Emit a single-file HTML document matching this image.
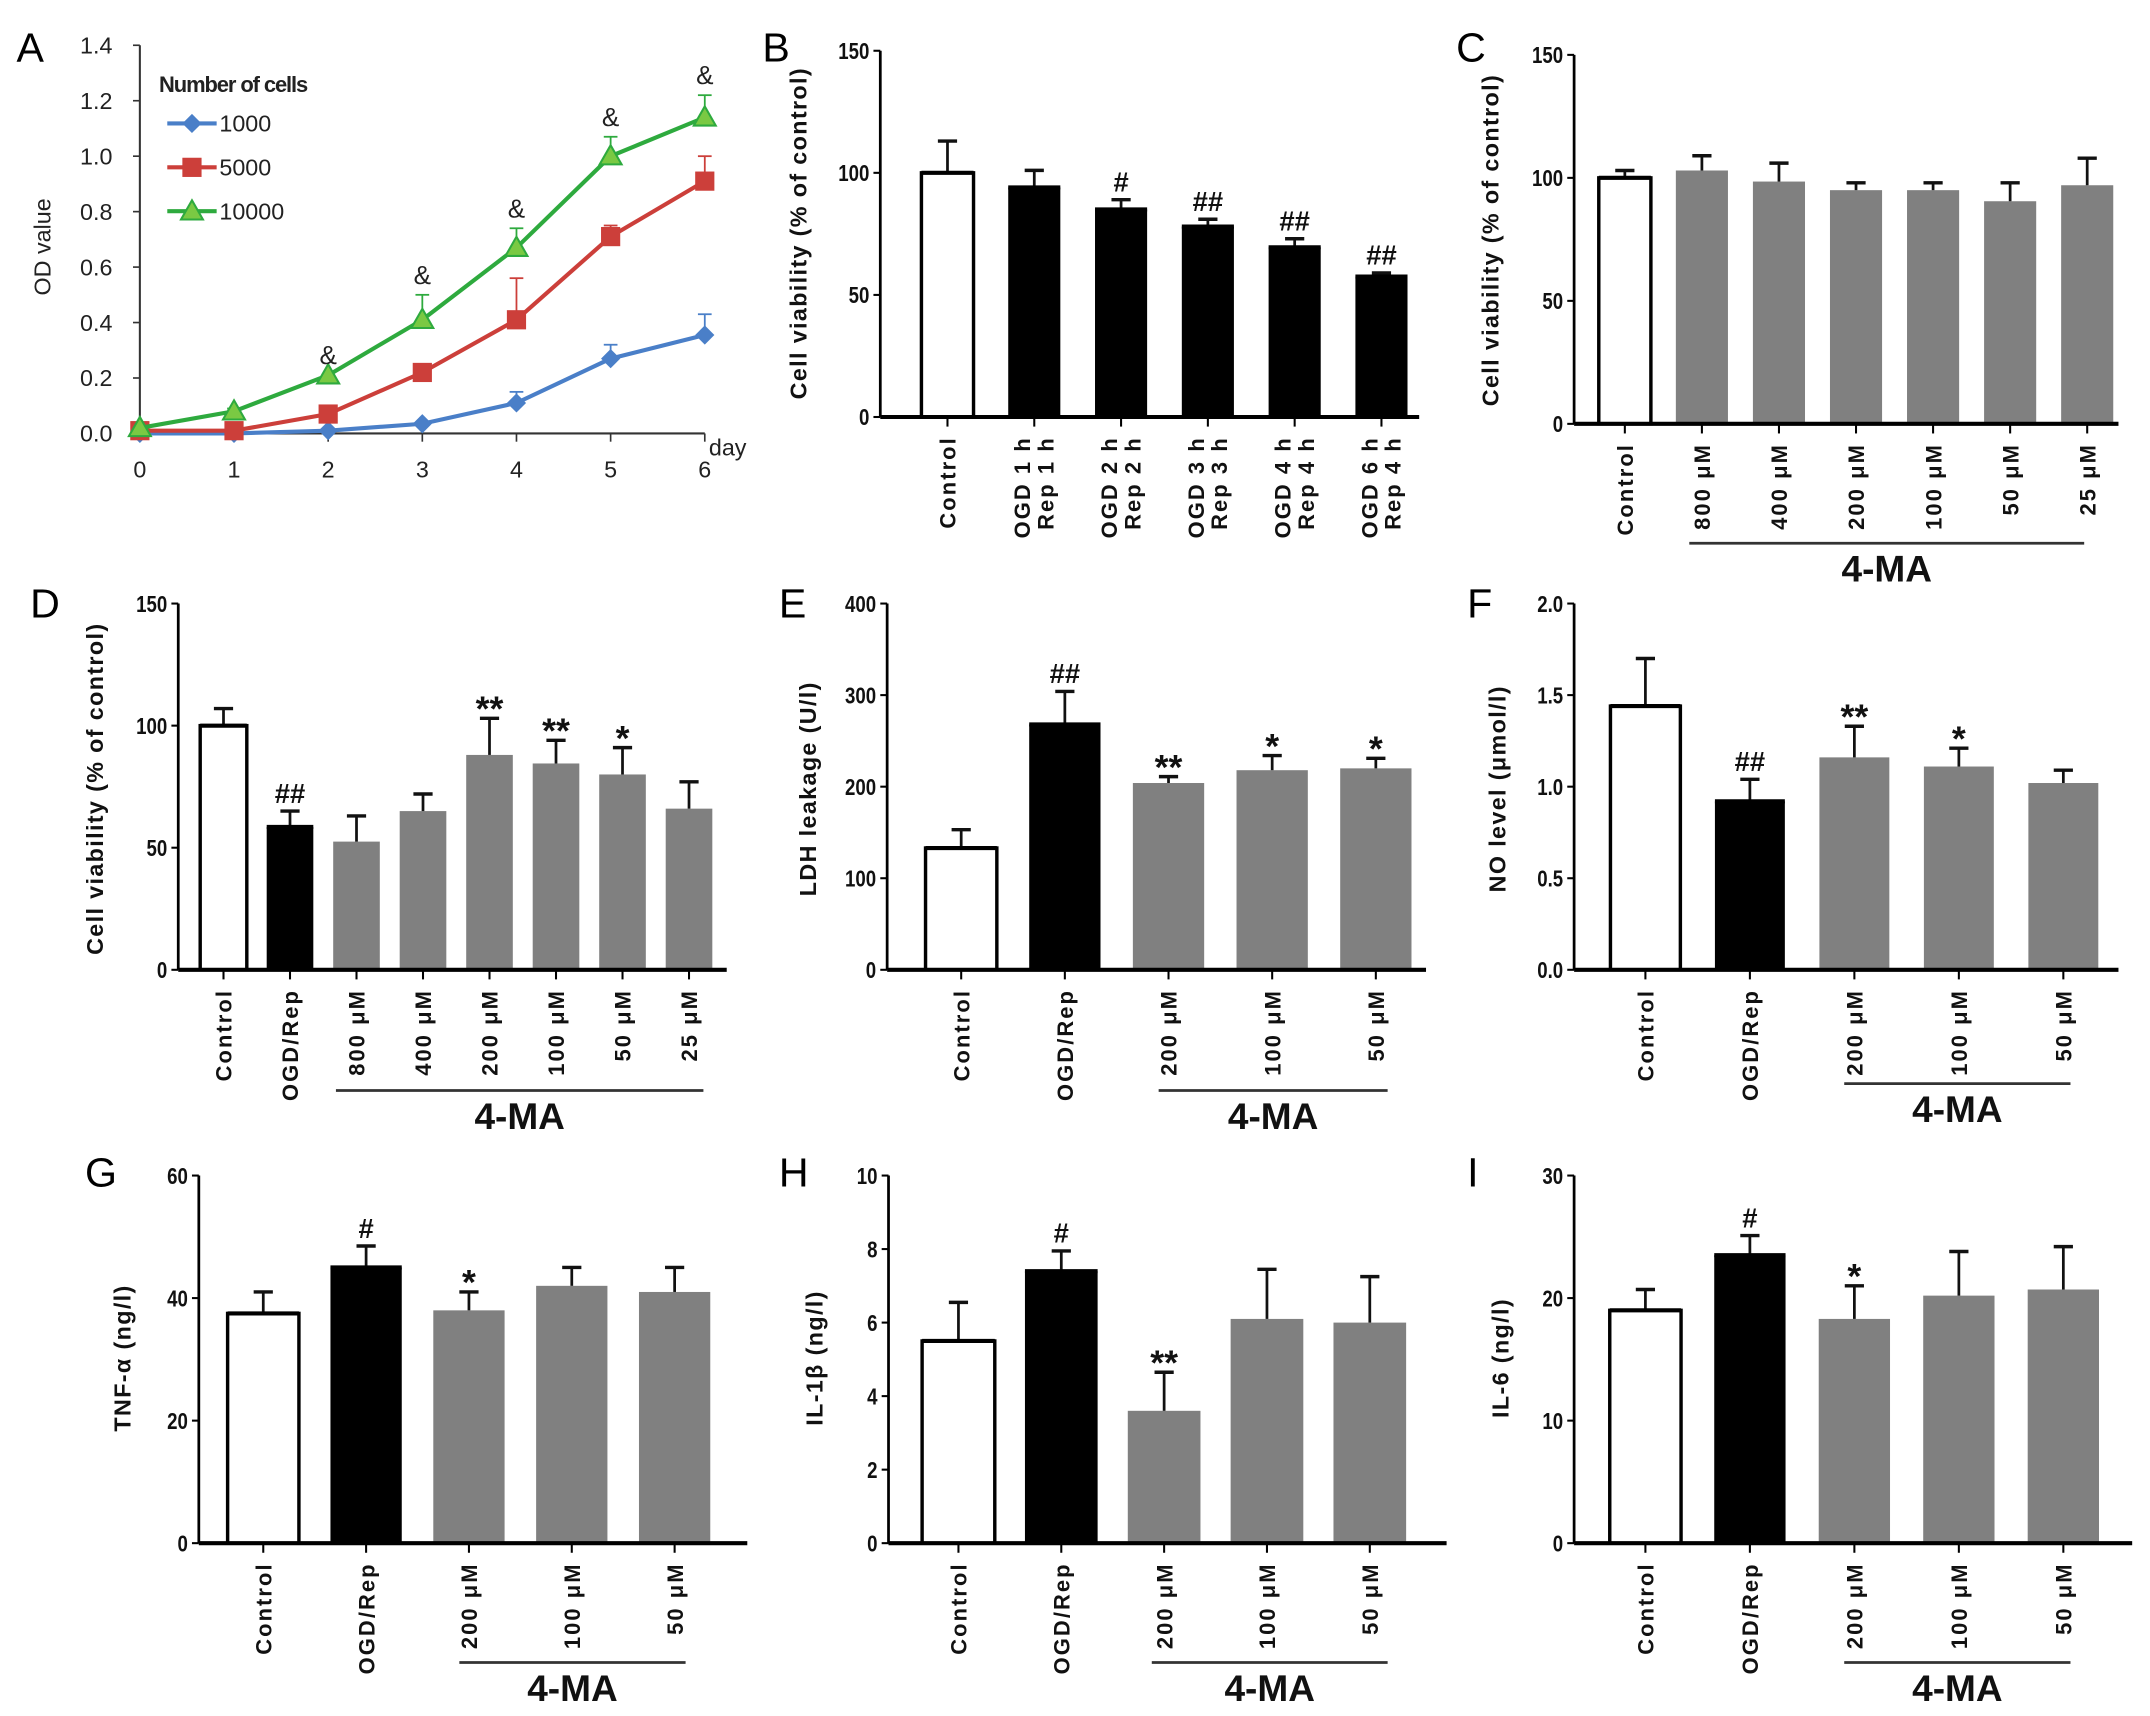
<!DOCTYPE html>
<html><head><meta charset="utf-8"><style>
html,body{margin:0;padding:0;background:#fff;}
svg{display:block;}
text{font-family:"Liberation Sans",Arial,sans-serif;}
</style></head><body>
<svg id="fig" width="2150" height="1716" viewBox="0 0 1568 1251" preserveAspectRatio="none" xmlns="http://www.w3.org/2000/svg"></svg>
<script>
// ---- Panel A data ----
const aDays = [0,1,2,3,4,5,6];
const aSeries1000 = [0,0,0.01,0.035,0.11,0.27,0.355];
const aErr1000 = [0,0,0.01,0.04,0.15,0.32,0.43];
const aSeries5000 = [0.01,0.01,0.07,0.22,0.41,0.71,0.91];
const aErr5000 = [0.01,0.01,0.07,0.22,0.56,0.75,1.0];
const aSeries10000 = [0.02,0.08,0.21,0.41,0.67,1.0,1.14];
const aErr10000 = [0.02,0.09,0.21,0.5,0.74,1.07,1.22];
const aMarks = ["","","&","&","&","&","&"];
const aYTicks = [0,0.2,0.4,0.6,0.8,1.0,1.2,1.4];
// ---- Panel B ----
const bCats = [["Control"],["OGD 1 h","Rep 1 h"],["OGD 2 h","Rep 2 h"],["OGD 3 h","Rep 3 h"],["OGD 4 h","Rep 4 h"],["OGD 6 h","Rep 4 h"]];
const bVals = [100,94,85,78,69.5,57.5];
const bErr = [113,101,89,81,73,59];
const bSig = ["","","#","##","##","##"];
const bTicks = [0,50,100,150];
// ---- Panel C ----
const cCats = [["Control"],["800 μM"],["400 μM"],["200 μM"],["100 μM"],["50 μM"],["25 μM"]];
const cVals = [100,103,98.5,95,95,90.5,97];
const cErr = [103,109,106,98,98,98,108];
const cSig = ["","","","","","",""];
// ---- Panel D ----
const dCats = [["Control"],["OGD/Rep"],["800 μM"],["400 μM"],["200 μM"],["100 μM"],["50 μM"],["25 μM"]];
const dVals = [100,58.5,52.5,65,88,84.5,80,66];
const dErr = [107,65,63,72,103,94,91,77];
const dSig = ["","##","","","**","**","*",""];
// ---- Panels E..I common cats ----
const fiveCats = [["Control"],["OGD/Rep"],["200 μM"],["100 μM"],["50 μM"]];
const eVals = [133,268,204,218,220];
const eErr = [153,304,211,234,231];
const eSig = ["","##","**","*","*"];
const eTicks = [0,100,200,300,400];
const fVals = [1.44,0.92,1.16,1.11,1.02];
const fErr = [1.7,1.04,1.33,1.21,1.09];
const fSig = ["","##","**","*",""];
const fTicks = [0,0.5,1.0,1.5,2.0];
const gVals = [37.5,45,38,42,41];
const gErr = [41,48.5,41,45,45];
const gSig = ["","#","*","",""];
const gTicks = [0,20,40,60];
const hVals = [5.5,7.4,3.6,6.1,6.0];
const hErr = [6.55,7.95,4.65,7.45,7.25];
const hSig = ["","#","**","",""];
const hTicks = [0,2,4,6,8,10];
const iVals = [19,23.5,18.3,20.2,20.7];
const iErr = [20.7,25.1,21,23.8,24.2];
const iSig = ["","#","*","",""];
const iTicks = [0,10,20,30];

const NS="http://www.w3.org/2000/svg";
const svg=document.getElementById('fig');
function el(tag,attrs,parent,txt){const e=document.createElementNS(NS,tag);for(const k in attrs)e.setAttribute(k,attrs[k]);if(txt!==undefined)e.textContent=txt;(parent||svg).appendChild(e);return e;}

function letter(t,x,y){
  const e=el('text',{x:x,y:y,'font-size':30},svg,t);
  
  
}

// ---------- Panel A ----------
(function(){
  const g=el('g',{});
  
  
  const x0=102,x6=514,y0=316,yTop=33,yMax=1.4;
  const xs=d=>x0+(x6-x0)*d/6, ys=v=>y0-(y0-yTop)*v/yMax;
  el('line',{x1:x0,y1:yTop,x2:x0,y2:y0,stroke:'#333','stroke-width':1.5},g);
  el('line',{x1:x0,y1:y0,x2:x6,y2:y0,stroke:'#333','stroke-width':1.5},g);
  aYTicks.forEach(v=>{el('line',{x1:x0-5,x2:x0,y1:ys(v),y2:ys(v),stroke:'#333','stroke-width':1.2},g);
    el('text',{x:x0-20,y:ys(v)+6,'font-size':17,'text-anchor':'end',fill:'#222'},g,v.toFixed(1));});
  aDays.forEach(d=>{el('line',{x1:xs(d),x2:xs(d),y1:y0,y2:y0+6,stroke:'#333','stroke-width':1.2},g);
    el('text',{x:xs(d),y:y0+32,'font-size':17,'text-anchor':'middle',fill:'#222'},g,String(d));});
  el('text',{x:517,y:y0+16,'font-size':17,fill:'#222'},g,'day');
  const yl=el('text',{x:0,y:0,'font-size':17,'text-anchor':'middle',fill:'#222',transform:'translate(37,180) rotate(-90)'},g,'OD value');
  
  const series=[[aSeries1000,aErr1000,'#4a7fc8','diamond','1000'],[aSeries5000,aErr5000,'#cc3f3a','square','5000'],[aSeries10000,aErr10000,'#2eaa3e','tri','10000']];
  function marker(type,x,y,c,p){
    if(type==='diamond')return el('polygon',{points:`${x},${y-7} ${x+7},${y} ${x},${y+7} ${x-7},${y}`,fill:c},p);
    if(type==='square')return el('rect',{x:x-7,y:y-7,width:14,height:14,fill:c},p);
    return el('polygon',{points:`${x},${y-8} ${x+8},${y+6} ${x-8},${y+6}`,fill:'#7ac943',stroke:c,'stroke-width':1.5},p);
  }
  series.forEach(s=>{
    const sg=el('g',{},g);
    
    
    s[0].forEach((v,i)=>{if(s[1][i]>v+0.005){el('line',{x1:xs(i),x2:xs(i),y1:ys(v),y2:ys(s[1][i]),stroke:s[2],'stroke-width':1.3},sg);el('line',{x1:xs(i)-5,x2:xs(i)+5,y1:ys(s[1][i]),y2:ys(s[1][i]),stroke:s[2],'stroke-width':1.3},sg);}});
    el('polyline',{points:s[0].map((v,i)=>xs(i)+','+ys(v)).join(' '),fill:'none',stroke:s[2],'stroke-width':3},sg);
    s[0].forEach((v,i)=>{const m=marker(s[3],xs(i),ys(v),s[2],sg);});
  });
  aMarks.forEach((t,i)=>{if(t)el('text',{x:xs(i),y:ys(aErr10000[i])-8,'font-size':19,'text-anchor':'middle',fill:'#222'},g,t);});
  const lg=el('g',{},g);
  
  
  el('text',{x:116,y:67,'font-size':16,'font-weight':'bold',fill:'#222','letter-spacing':-0.8},lg,'Number of cells');
  series.forEach((s,k)=>{const y=90+k*32;el('line',{x1:122,x2:158,y1:y,y2:y,stroke:s[2],'stroke-width':3},lg);marker(s[3],140,y,s[2],lg);
    const t=el('text',{x:160,y:y+6,'font-size':17,fill:'#222'},lg,s[4]);});
})();

// ---------- bar panel helper ----------
function barPanel(o){
  const g=el('g',{});
  
  
  const ys=v=>o.y0-(o.y0-o.yTop)*v/o.yMax;
  const xc=i=>o.xStart+o.step*i;
  o.vals.forEach((v,i)=>{
    const fill=i===0?'#fff':(o.blackIdx.includes(i)?'#000':'#808080');
    const r=el('rect',{x:xc(i)-o.bw/2,y:ys(v),width:o.bw,height:o.y0-ys(v),fill:fill,stroke:i===0?'#000':'none','stroke-width':2.5},g);
    
    
    el('line',{x1:xc(i),x2:xc(i),y1:ys(v),y2:ys(o.err[i]),stroke:'#111','stroke-width':2},g);
    el('line',{x1:xc(i)-7,x2:xc(i)+7,y1:ys(o.err[i]),y2:ys(o.err[i]),stroke:'#111','stroke-width':2.5},g);
    if(i===0||o.blackIdx.includes(i))el('line',{x1:xc(i)-o.bw/2,x2:xc(i)+o.bw/2,y1:ys(v),y2:ys(v),stroke:'#000','stroke-width':3},g);
    if(o.sig[i]){const s=el('text',{x:xc(i),y:ys(o.err[i])-(o.sig[i].includes('*')?-2:6),'font-size':o.sig[i].includes('*')?26:20,'font-weight':'bold','text-anchor':'middle',fill:'#111'},g,o.sig[i]);
      }
  });
  el('line',{x1:o.x0,x2:o.x0,y1:o.yTop,y2:o.y0,stroke:'#000','stroke-width':2},g);
  el('line',{x1:o.x0,x2:o.xEnd,y1:o.y0,y2:o.y0,stroke:'#000','stroke-width':3},g);
  o.ticks.forEach(v=>{el('line',{x1:o.x0-5,x2:o.x0,y1:ys(v),y2:ys(v),stroke:'#000','stroke-width':1.5},g);
    el('text',{x:o.x0-8,y:ys(v)+6,'font-size':17,'font-weight':'bold','text-anchor':'end',fill:'#111',transform:`translate(${o.x0-8},${ys(v)}) scale(0.8,1) translate(${-(o.x0-8)},${-ys(v)})`},g,o.fmt?o.fmt(v):String(v));});
  const yl=el('text',{x:0,y:0,'font-size':17,'font-weight':'bold','letter-spacing':1,'text-anchor':'middle',fill:'#111',transform:`translate(${o.ylx},${o.yly}) rotate(-90)`},g,o.ytitle);
  
  o.cats.forEach((c,i)=>{
    el('line',{x1:xc(i),x2:xc(i),y1:o.y0,y2:o.y0+7,stroke:'#000','stroke-width':1.5},g);
    c.forEach((line,k)=>{
      const dx=c.length===1?6:(k===0?-3:14);
      const t=el('text',{x:0,y:0,'font-size':16,'font-weight':'bold','letter-spacing':1.5,'text-anchor':'end',fill:'#111',transform:`translate(${xc(i)+dx},${o.y0+14}) rotate(-90)`},g,line);
      
    });
  });
  if(o.group){
    el('line',{x1:o.group[0],x2:o.group[1],y1:o.group[2],y2:o.group[2],stroke:'#333','stroke-width':2},g);
    const t=el('text',{x:(o.group[0]+o.group[1])/2,y:o.group[2]+28,'font-size':27,'font-weight':'bold','text-anchor':'middle',fill:'#111'},g,'4-MA');
    
  }
}
const CV='Cell viability (% of control)';
barPanel({name:'panel-b-bar-chart',cats:bCats,vals:bVals,err:bErr,sig:bSig,ticks:bTicks,yMax:150,x0:642,y0:304,yTop:37,xEnd:1035,xStart:691,step:63.3,bw:38,blackIdx:[1,2,3,4,5],ytitle:CV,ylx:588,yly:170});
barPanel({name:'panel-c-bar-chart',cats:cCats,vals:cVals,err:cErr,sig:cSig,ticks:bTicks,yMax:150,x0:1148,y0:309,yTop:40,xEnd:1545,xStart:1185,step:56.2,bw:38,blackIdx:[],ytitle:CV,ylx:1093,yly:175,group:[1232,1520,396]});
barPanel({name:'panel-d-bar-chart',cats:dCats,vals:dVals,err:dErr,sig:dSig,ticks:bTicks,yMax:150,x0:130,y0:707,yTop:440,xEnd:530,xStart:163,step:48.5,bw:34,blackIdx:[1],ytitle:CV,ylx:75,yly:575,group:[245,513,795]});
barPanel({name:'panel-e-bar-chart',cats:fiveCats,vals:eVals,err:eErr,sig:eSig,ticks:eTicks,yMax:400,x0:647,y0:707,yTop:440,xEnd:1040,xStart:701,step:75.6,bw:52,blackIdx:[1],ytitle:'LDH leakage (U/l)',ylx:595,yly:575,group:[845,1012,795]});
barPanel({name:'panel-f-bar-chart',cats:fiveCats,vals:fVals,err:fErr,sig:fSig,ticks:fTicks,yMax:2,x0:1148,y0:707,yTop:440,xEnd:1545,xStart:1200,step:76.2,bw:51,blackIdx:[1],ytitle:'NO level (μmol/l)',ylx:1098,yly:575,group:[1345,1510,790],fmt:v=>v.toFixed(1)});
barPanel({name:'panel-g-bar-chart',cats:fiveCats,vals:gVals,err:gErr,sig:gSig,ticks:gTicks,yMax:60,x0:145,y0:1125,yTop:857,xEnd:545,xStart:192,step:75,bw:52,blackIdx:[1],ytitle:'TNF-α (ng/l)',ylx:95,yly:990,group:[335,500,1212]});
barPanel({name:'panel-h-bar-chart',cats:fiveCats,vals:hVals,err:hErr,sig:hSig,ticks:hTicks,yMax:10,x0:648,y0:1125,yTop:857,xEnd:1055,xStart:699,step:75,bw:53,blackIdx:[1],ytitle:'IL-1β (ng/l)',ylx:600,yly:990,group:[840,1012,1212]});
barPanel({name:'panel-i-bar-chart',cats:fiveCats,vals:iVals,err:iErr,sig:iSig,ticks:iTicks,yMax:30,x0:1148,y0:1125,yTop:857,xEnd:1555,xStart:1200,step:76.2,bw:52,blackIdx:[1],ytitle:'IL-6 (ng/l)',ylx:1100,yly:990,group:[1345,1510,1212]});

letter('A',12,45);letter('B',556,45);letter('C',1062,45);
letter('D',22,450);letter('E',568,450);letter('F',1070,450);
letter('G',62,865);letter('H',568,865);letter('I',1070,865);
</script>
</body></html>
